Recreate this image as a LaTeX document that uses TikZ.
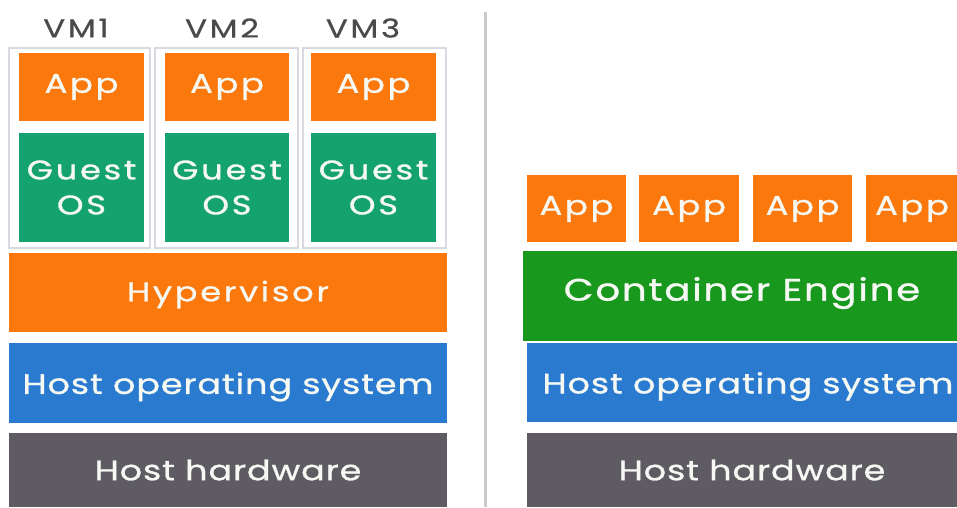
\documentclass[tikz,border=0pt]{standalone}
\usepackage{fontspec}
\setmainfont{Poppins}
\newfontfamily\smallface[FakeStretch=1.25, LetterSpace=10, FakeBold=1]{Poppins}
\newfontfamily\vmface[FakeStretch=1.25, LetterSpace=10, FakeBold=0.5]{Poppins}
\newfontfamily\hostface[FakeStretch=1.25, LetterSpace=3.2, FakeBold=1]{Poppins}
\newfontfamily\engineface[FakeStretch=1.25, LetterSpace=5.6, FakeBold=1]{Poppins}
\definecolor{apporange}{HTML}{FA780C}
\definecolor{guestgreen}{HTML}{15A271}
\definecolor{enginegreen}{HTML}{18991E}
\definecolor{hostblue}{HTML}{2A7BD0}
\definecolor{hwgray}{HTML}{5E5C62}
\definecolor{vmgray}{HTML}{4A4A4A}
\definecolor{frameline}{HTML}{D8D9E2}
\definecolor{divider}{HTML}{C9C9CC}
\definecolor{labelwhite}{HTML}{F6F8F4}
\tikzset{
  blk/.style={rectangle, inner sep=0pt, text=labelwhite, align=center},
  txt/.style={inner sep=0pt, text=labelwhite},
  small/.style={font=\smallface\fontsize{27}{35}\selectfont},
  host/.style={font=\hostface\fontsize{28}{32}\selectfont},
  engine/.style={font=\engineface\fontsize{31}{35}\selectfont},
  vmframe/.style={rectangle, draw=frameline, line width=1.2pt, inner sep=0pt},
  vmlabel/.style={text=vmgray, font=\vmface\fontsize{26}{30}\selectfont, inner sep=0pt},
}
\begin{document}
\begin{tikzpicture}[x=1pt, y=-1pt]
  \clip (0,0) rectangle (957,507);
  \fill[white] (0,0) rectangle (957,507);

  % divider between the two stacks
  \draw[divider, line width=3pt] (485,12) -- (485,507);

  % ---- virtual machines ----
  \foreach \n/\l/\r/\t in {1/9/150/76, 2/155/298/222, 3/303/446/363} {
    \node[vmframe, minimum width={\r-\l}, minimum height=200] (vm\n) at ({(\l+\r)/2},148) {};
    \node[vmlabel] (vmname\n) at (\t,28) {VM\n};
  }
  \foreach \n/\l/\r in {1/19/144, 2/165/289, 3/311/436} {
    \node[blk, small, fill=apporange, minimum width={\r-\l}, minimum height=68] (vapp\n) at ({(\l+\r)/2},87) {App};
    \node[blk, small, fill=guestgreen, minimum width={\r-\l}, minimum height=109] (guest\n) at ({(\l+\r)/2},187.5) {Guest\\OS};
  }

  \node[blk, fill=apporange, minimum width=438, minimum height=79] (hyper) at (228,292.5) {};
  \node[txt, small] (hypertext) at ([yshift=-2pt]hyper.center) {Hypervisor};
  \node[blk, fill=hostblue, minimum width=438, minimum height=80] (hostL) at (228,383) {};
  \node[txt, host] (hostLtext) at ([yshift=-4pt]hostL.center) {Host operating system};
  \node[blk, host, fill=hwgray, minimum width=438, minimum height=74] (hwL) at (228,470) {Host hardware};

  % ---- containers ----
  \foreach \n/\l/\r/\c in {1/527/626/576.5, 2/639/739/689, 3/753/852/802.5, 4/866/966/912} {
    \node[blk, fill=apporange, minimum width={\r-\l}, minimum height=67] (capp\n) at ({(\l+\r)/2},208.5) {};
    \node[txt, small] (capptext\n) at (\c,209) {App};
  }
  \node[blk, fill=enginegreen, minimum width=438, minimum height=90] (engine) at (742,296) {};
  \node[txt, engine] (enginetext) at ([yshift=3pt]engine.center) {Container Engine};
  \node[blk, fill=hostblue, minimum width=442, minimum height=79] (hostR) at (748,382.5) {};
  \node[txt, host] (hostRtext) at ([yshift=-4pt]hostR.center) {Host operating system};
  \node[blk, host, fill=hwgray, minimum width=450, minimum height=74] (hwR) at (752,470) {Host hardware};
\end{tikzpicture}
\end{document}
